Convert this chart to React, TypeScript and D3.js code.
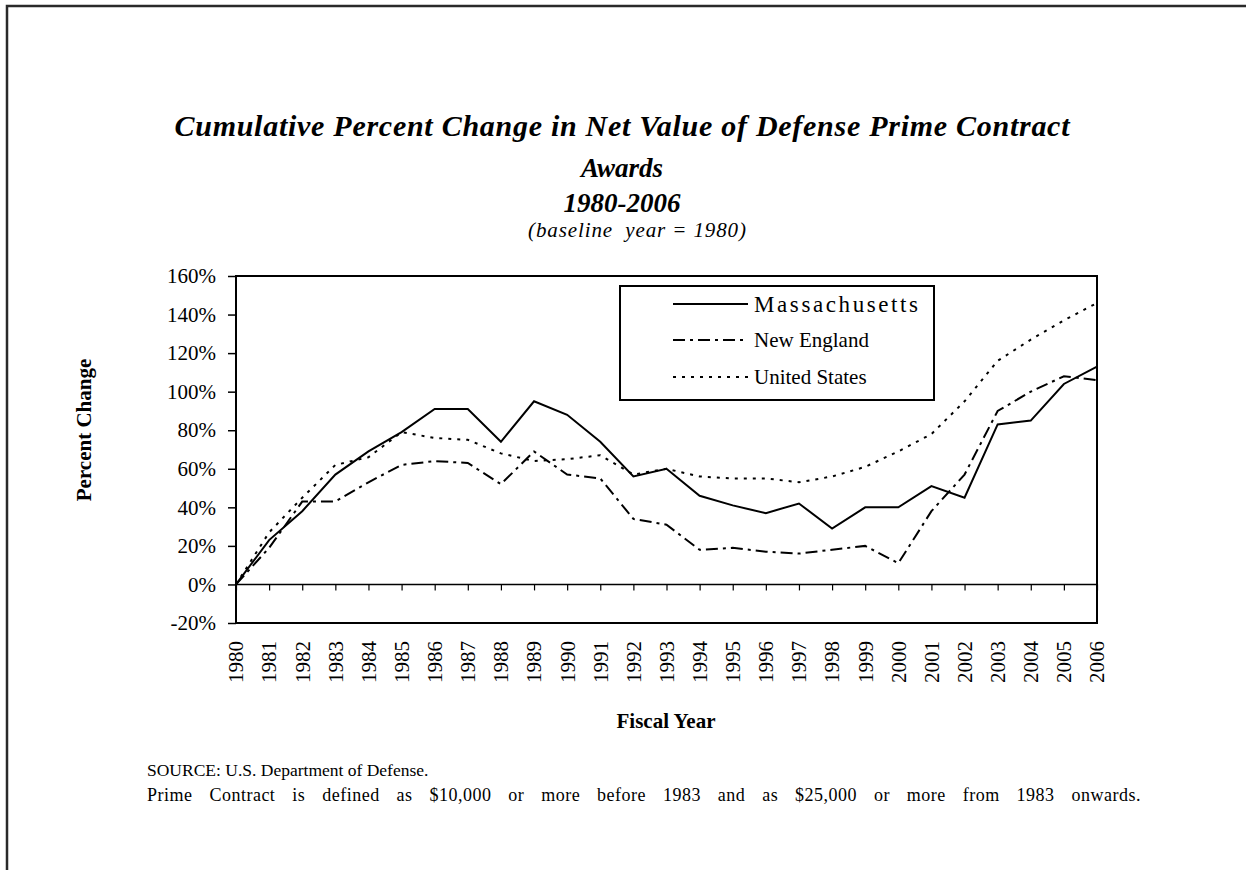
import React, { useEffect, useRef } from "react";
import * as d3 from "d3";

const years = [
  1980, 1981, 1982, 1983, 1984, 1985, 1986, 1987, 1988, 1989, 1990, 1991, 1992, 1993,
  1994, 1995, 1996, 1997, 1998, 1999, 2000, 2001, 2002, 2003, 2004, 2005, 2006,
];
const massachusetts = [
  0, 23, 38, 57, 69, 79, 91, 91, 74, 95, 88, 74, 56, 60, 46, 41, 37, 42, 29, 40, 40, 51, 45,
  83, 85, 104, 113,
];
const newEngland = [
  0, 19, 43, 43, 53, 62, 64, 63, 52, 69, 57, 55, 34, 31, 18, 19, 17, 16, 18, 20, 11, 38, 57,
  90, 100, 108, 106,
];
const unitedStates = [
  0, 27, 45, 62, 66, 79, 76, 75, 68, 64, 65, 67, 57, 60, 56, 55, 55, 53, 56, 61, 69, 78, 95,
  116, 127, 137, 146,
];
const yTicks = [-20, 0, 20, 40, 60, 80, 100, 120, 140, 160];
const seriesNames = ["Massachusetts", "New England", "United States"];

const titleLines = [
  "Cumulative Percent Change in Net Value of Defense Prime Contract",
  "Awards",
  "1980-2006",
];
const subtitle = "(baseline\u00a0 year = 1980)";
const sourceLines = [
  "SOURCE: U.S. Department of Defense.",
  "Prime Contract is defined as $10,000 or more before 1983 and as $25,000 or more from 1983 onwards.",
];

const font = "'Liberation Serif', 'Times New Roman', serif";

function App() {
  const svgRef = useRef<SVGSVGElement>(null);
  const width = 1246;
  const height = 870;
  const plot = { left: 236, right: 1097, top: 276, bottom: 623 };

  useEffect(() => {
    const svg = d3.select(svgRef.current);
    svg.selectAll("*").remove();

    const x = d3.scalePoint<number>().domain(years).range([plot.left, plot.right]);
    const y = d3.scaleLinear().domain([-20, 160]).range([plot.bottom, plot.top]);

    // frame around the page
    svg
      .append("path")
      .attr("d", `M7,${height} L7,6 L${width},6`)
      .attr("fill", "none")
      .attr("stroke", "#2a2a2a")
      .attr("stroke-width", 2.5);

    // titles (first line is set wider, as in the report)
    const titleY = [136, 177, 212];
    titleLines.forEach((t, i) => {
      const txt = svg
        .append("text")
        .attr("x", 622)
        .attr("y", titleY[i])
        .attr("text-anchor", "middle")
        .attr("font-family", font)
        .attr("font-size", i === 0 ? 30 : 27)
        .attr("font-weight", "bold")
        .attr("font-style", "italic")
        .text(t);
      if (i === 0) txt.attr("textLength", 895).attr("lengthAdjust", "spacing");
    });
    svg
      .append("text")
      .attr("x", 637)
      .attr("y", 237)
      .attr("text-anchor", "middle")
      .attr("font-family", font)
      .attr("font-size", 21)
      .attr("font-style", "italic")
      .attr("textLength", 218)
      .attr("lengthAdjust", "spacing")
      .text(subtitle);

    // plot border
    svg
      .append("rect")
      .attr("x", plot.left)
      .attr("y", plot.top)
      .attr("width", plot.right - plot.left)
      .attr("height", plot.bottom - plot.top)
      .attr("fill", "none")
      .attr("stroke", "black")
      .attr("stroke-width", 2);

    // y axis
    const yAxis = svg
      .append("g")
      .attr("transform", `translate(${plot.left},0)`)
      .call(
        d3
          .axisLeft(y)
          .tickValues(yTicks)
          .tickSize(8)
          .tickPadding(12)
          .tickFormat((d) => `${d}%`)
      );
    yAxis.select(".domain").remove();
    yAxis.selectAll("line").attr("stroke", "black").attr("stroke-width", 1.5);
    yAxis
      .selectAll("text")
      .attr("font-family", font)
      .attr("font-size", 21)
      .attr("fill", "black");

    // zero line with category ticks
    const xAxis = svg
      .append("g")
      .attr("transform", `translate(0,${y(0)})`)
      .call(d3.axisBottom(x).tickSize(6).tickFormat(() => ""));
    xAxis.select(".domain").attr("d", `M${plot.left},0H${plot.right}`).attr("stroke-width", 1.5);
    xAxis.selectAll("line").attr("stroke", "black").attr("stroke-width", 1.2);

    // year labels at the bottom
    svg
      .append("g")
      .selectAll("text")
      .data(years)
      .join("text")
      .attr("transform", (d) => `translate(${x(d)},641) rotate(-90)`)
      .attr("text-anchor", "end")
      .attr("dy", "0.35em")
      .attr("font-family", font)
      .attr("font-size", 21)
      .text((d) => d);

    // series
    const styles = [
      { values: massachusetts, dash: null },
      { values: newEngland, dash: "12,5,3,5" },
      { values: unitedStates, dash: "3,6" },
    ];
    const line = d3
      .line<number>()
      .x((_, i) => x(years[i]) as number)
      .y((d) => y(d));
    styles.forEach((s) => {
      svg
        .append("path")
        .datum(s.values)
        .attr("d", line)
        .attr("fill", "none")
        .attr("stroke", "black")
        .attr("stroke-width", 2)
        .attr("stroke-dasharray", s.dash);
    });

    // legend
    const legend = svg.append("g");
    legend
      .append("rect")
      .attr("x", 620)
      .attr("y", 286)
      .attr("width", 314)
      .attr("height", 114)
      .attr("fill", "white")
      .attr("stroke", "black")
      .attr("stroke-width", 2);
    const rowY = [304, 340, 377];
    styles.forEach((s, i) => {
      legend
        .append("line")
        .attr("x1", 673)
        .attr("x2", 748)
        .attr("y1", rowY[i])
        .attr("y2", rowY[i])
        .attr("stroke", "black")
        .attr("stroke-width", 2)
        .attr("stroke-dasharray", s.dash);
      const lt = legend
        .append("text")
        .attr("x", 754)
        .attr("y", rowY[i])
        .attr("dy", "0.35em")
        .attr("font-family", font)
        .attr("font-size", i === 0 ? 23 : 21)
        .text(seriesNames[i]);
      if (i === 0) lt.attr("textLength", 164).attr("lengthAdjust", "spacing");
    });

    // axis titles
    svg
      .append("text")
      .attr("transform", "translate(91,430) rotate(-90)")
      .attr("text-anchor", "middle")
      .attr("font-family", font)
      .attr("font-size", 21)
      .attr("font-weight", "bold")
      .text("Percent Change");
    svg
      .append("text")
      .attr("x", 666)
      .attr("y", 728)
      .attr("text-anchor", "middle")
      .attr("font-family", font)
      .attr("font-size", 21)
      .attr("font-weight", "bold")
      .text("Fiscal Year");

    // source notes, second line justified to the report's width
    const srcY = [776, 801];
    sourceLines.forEach((t, i) => {
      const txt = svg
        .append("text")
        .attr("x", 147)
        .attr("y", srcY[i])
        .attr("font-family", font)
        .attr("font-size", i === 0 ? 17.5 : 18)
        .text(t);
      if (i === 1) {
        txt.attr("letter-spacing", 0.5);
        const node = txt.node() as SVGTextElement;
        const len = node.getComputedTextLength();
        const spaces = t.split(" ").length - 1;
        txt.attr("word-spacing", Math.max(0, (994 - len) / spaces));
      }
    });
  }, []);

  return (
    <svg
      ref={svgRef}
      width={width}
      height={height}
      style={{ position: "absolute", left: 0, top: 0, background: "white" }}
    />
  );
}

export default App;
